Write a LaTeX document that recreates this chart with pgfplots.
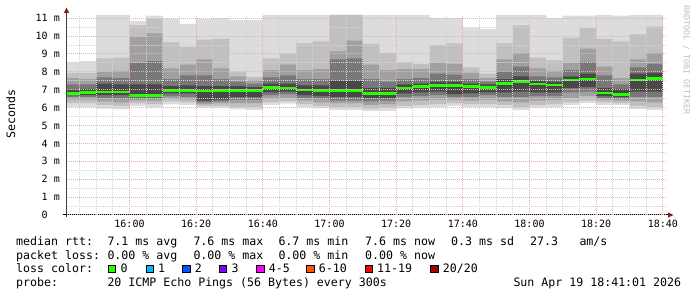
\documentclass[border=0pt]{standalone}
\usepackage{pgfplots}
\pgfplotsset{compat=1.18}
\usepgfplotslibrary{fillbetween}
\usepackage{pgfplotstable}
\usepackage{fontspec}
\setmainfont{DejaVu Sans Mono}

\definecolor{bA}{HTML}{DCDCDC}
\definecolor{bB}{HTML}{C0C0C0}
\definecolor{bC}{HTML}{A0A0A0}
\definecolor{bD}{HTML}{787878}
\definecolor{bE}{HTML}{484848}
\definecolor{mgrid}{HTML}{E8B0B0}
\definecolor{ngrid}{HTML}{D4D4D4}
\definecolor{arrowred}{HTML}{8B1A1A}
\definecolor{lcA}{HTML}{26FF00}
\definecolor{lcB}{HTML}{00B8FF}
\definecolor{lcC}{HTML}{0059FF}
\definecolor{lcD}{HTML}{7E00FF}
\definecolor{lcE}{HTML}{FF00FF}
\definecolor{lcF}{HTML}{FF5500}
\definecolor{lcG}{HTML}{FF0000}
\definecolor{lcH}{HTML}{A10000}
\definecolor{wm}{HTML}{BEBEBE}

% t = minutes after 15:00; smoke quantiles in ms
\pgfplotstableread{
t     mn   l1   l2   l3   l4   med  u4   u3   u2   u1    mx
41.1  6.05 6.25 6.45 6.60 6.70 6.78 7.00 7.30 7.65 7.95  8.55
45    6.03 6.25 6.45 6.60 6.72 6.85 7.05 7.30 7.60 7.95  8.60
50    5.95 6.15 6.35 6.55 6.70 6.88 7.35 7.70 8.00 8.75  11.18
55    5.90 6.10 6.30 6.50 6.70 6.88 7.30 7.65 8.05 8.80  11.18
60    6.08 6.25 6.40 6.50 6.58 6.68 7.30 8.50 9.95 10.60 10.85
65    6.02 6.20 6.38 6.50 6.58 6.68 7.30 8.60 10.15 10.95 11.15
70    6.18 6.35 6.50 6.65 6.80 6.95 7.20 7.60 8.20 9.65  10.96
75    6.15 6.30 6.45 6.60 6.80 6.97 7.25 7.80 8.40 9.40  10.68
80    6.00 6.10 6.20 6.30 6.40 6.93 7.20 7.80 8.70 9.80  10.95
85    6.00 6.10 6.25 6.35 6.45 6.95 7.20 7.60 8.20 9.85  11.00
90    5.90 6.05 6.25 6.45 6.60 6.97 7.20 7.45 7.75 8.00  10.90
95    5.88 6.05 6.25 6.45 6.60 6.95 7.15 7.35 7.55 7.72  10.90
100   6.15 6.30 6.50 6.70 6.85 7.12 7.35 7.70 8.10 8.75  11.18
105   6.22 6.35 6.55 6.75 6.90 7.10 7.35 7.80 8.40 9.00  11.18
110   6.05 6.20 6.40 6.55 6.70 6.98 7.25 7.60 8.10 9.60  11.18
115   5.97 6.10 6.30 6.50 6.65 6.97 7.25 7.60 8.15 9.70  11.18
120   5.87 6.05 6.25 6.40 6.60 6.97 7.50 8.70 9.15 11.18 11.18
125   5.87 6.05 6.25 6.40 6.60 6.97 7.50 8.75 9.75 11.18 11.18
130   5.80 5.95 6.15 6.35 6.55 6.80 7.10 7.60 8.40 9.55  11.18
135   5.82 6.00 6.20 6.40 6.55 6.80 7.10 7.45 8.10 9.05  11.18
140   5.96 6.10 6.35 6.60 6.80 7.10 7.30 7.60 8.15 8.55  11.18
145   6.00 6.15 6.40 6.65 6.85 7.18 7.35 7.65 8.15 8.45  11.18
150   6.05 6.20 6.45 6.70 6.90 7.25 7.45 7.90 8.50 9.50  11.02
155   6.10 6.25 6.45 6.60 6.75 7.25 7.45 7.85 8.45 9.60  11.00
160   6.05 6.20 6.40 6.60 6.80 7.17 7.35 7.60 7.95 8.25  10.48
165   6.05 6.20 6.45 6.70 6.85 7.12 7.30 7.45 7.65 7.90  10.40
170   5.97 6.15 6.35 6.60 6.85 7.35 7.60 8.00 8.70 9.60  11.18
175   5.88 6.05 6.30 6.60 6.90 7.45 7.75 8.30 9.05 10.60 11.18
180   6.00 6.15 6.40 6.65 6.85 7.32 7.50 7.75 8.20 8.80  11.18
185   6.05 6.20 6.45 6.65 6.85 7.27 7.45 7.70 8.05 8.65  11.00
190   6.15 6.30 6.55 6.85 7.10 7.55 7.75 8.10 8.50 9.90  11.15
195   6.25 6.40 6.65 6.90 7.15 7.60 7.90 8.55 9.30 10.45 11.15
200   6.15 6.30 6.45 6.55 6.65 6.82 7.10 7.80 8.30 9.85  11.18
205   6.15 6.25 6.40 6.50 6.60 6.75 7.05 7.30 7.65 9.70  11.15
210   5.93 6.10 6.35 6.60 6.90 7.55 7.90 8.25 8.70 10.10 11.18
215   5.88 6.05 6.30 6.60 6.90 7.62 7.95 8.45 9.05 10.55 11.18
220   5.88 6.05 6.30 6.60 6.90 7.62 7.95 8.45 9.05 10.55 11.18
}\smoke

\begin{document}
\begin{tikzpicture}[x=1pt,y=1pt]
\begin{axis}[
  at={(66.5pt,82pt)}, anchor=south west,
  scale only axis, width=600pt, height=200pt,
  xmin=41.1, xmax=221.1, ymin=0, ymax=11.18,
  clip=false, axis on top,
  axis line style={draw=none},
  major tick length=0pt, minor tick length=0pt,
  xtick={60,80,...,220},
  xticklabels={16:00,16:20,16:40,17:00,17:20,17:40,18:00,18:20,18:40},
  minor xtick={45,50,...,215},
  ytick={0,1,...,11},
  yticklabels={{0\phantom{ m}},{1 m},{2 m},{3 m},{4 m},{5 m},{6 m},{7 m},{8 m},{9 m},{10 m},{11 m}},
  minor ytick={0.5,1.5,...,10.5},
  grid=both,
  major grid style={mgrid, dash pattern=on 1pt off 1pt, line width=1pt},
  minor grid style={ngrid, dash pattern=on 1pt off 1pt, line width=1pt},
  tick label style={font=\fontsize{10}{12}\selectfont, inner sep=0pt},
  xticklabel style={yshift=-5pt},
  yticklabel style={xshift=-6.5pt},
  every axis plot/.append style={no markers},
]
\addplot[name path=pmx, draw=none, const plot] table[x=t,y=mx]{\smoke};
\addplot[name path=pmn, draw=none, const plot] table[x=t,y=mn]{\smoke};
\addplot[name path=pu1, draw=none, const plot] table[x=t,y=u1]{\smoke};
\addplot[name path=pl1, draw=none, const plot] table[x=t,y=l1]{\smoke};
\addplot[name path=pu2, draw=none, const plot] table[x=t,y=u2]{\smoke};
\addplot[name path=pl2, draw=none, const plot] table[x=t,y=l2]{\smoke};
\addplot[name path=pu3, draw=none, const plot] table[x=t,y=u3]{\smoke};
\addplot[name path=pl3, draw=none, const plot] table[x=t,y=l3]{\smoke};
\addplot[name path=pu4, draw=none, const plot] table[x=t,y=u4]{\smoke};
\addplot[name path=pl4, draw=none, const plot] table[x=t,y=l4]{\smoke};
\addplot[fill=bA, draw=none] fill between[of=pmx and pmn];
\addplot[fill=bB, draw=none] fill between[of=pu1 and pl1];
\addplot[fill=bC, draw=none] fill between[of=pu2 and pl2];
\addplot[fill=bD, draw=none] fill between[of=pu3 and pl3];
\addplot[fill=bE, draw=none] fill between[of=pu4 and pl4];
\addplot[lcA, line width=2.6pt, jump mark left] table[x=t,y=med]{\smoke};
\end{axis}
% axis lines and arrows
\draw[color=black!75, line width=1pt] (66.5,80) -- (66.5,286);
\draw[color=black, line width=1pt] (62.5,82) -- (668,82);
\fill[arrowred] (668,79.3) -- (673.5,82) -- (668,84.7) -- cycle;
\fill[arrowred] (63.8,284) -- (66.5,289.5) -- (69.2,284) -- cycle;
% axis title and watermark
\node[rotate=90, font=\fontsize{11.6}{14}\selectfont] at (10.8,183) {Seconds};
\node[rotate=-90, font=\fontsize{8.3}{10}\selectfont, text=wm] at (686.5,237) {RRDTOOL / TOBI OETIKER};
% legend
\begin{scope}[every node/.style={anchor=base west, inner sep=0pt, font=\fontsize{11.6}{14}\selectfont}]
\node at (16,51.5) {median rtt:};
\node at (107.3,51.5) {7.1 ms avg};
\node at (193.3,51.5) {7.6 ms max};
\node at (278.3,51.5) {6.7 ms min};
\node at (365,51.5) {7.6 ms now};
\node at (451,51.5) {0.3 ms sd};
\node at (530,51.5) {27.3};
\node at (579.3,51.5) {am/s};
\node at (16,37.7) {packet loss:};
\node at (107.3,37.7) {0.00 \% avg};
\node at (193.3,37.7) {0.00 \% max};
\node at (278.3,37.7) {0.00 \% min};
\node at (365,37.7) {0.00 \% now};
\node at (16,24) {loss color:};
\node at (16,10.3) {probe:};
\node at (107.3,10.3) {20 ICMP Echo Pings (56 Bytes) every 300s};
\node at (513.3,10.3) {Sun Apr 19 18:41:01 2026};
\foreach \bx/\col/\lab in {108.3/lcA/0, 146/lcB/1, 182.7/lcC/2, 219.3/lcD/3, 256.7/lcE/4-5, 306.7/lcF/6-10, 365/lcG/11-19}{
  \filldraw[fill=\col, draw=black, line width=0.7pt] (\bx,24.6) rectangle ++(7.4,7.4);
  \node at (\bx+12,24) {\lab};
}
\filldraw[fill=lcH, draw=black, line width=0.7pt] (430.7,24.6) rectangle ++(7.4,7.4);
\node at (442.7,24) {20/20};
\end{scope}
\pgfresetboundingbox
\path[use as bounding box] (0,0) rectangle (697,297);
\end{tikzpicture}
\end{document}
